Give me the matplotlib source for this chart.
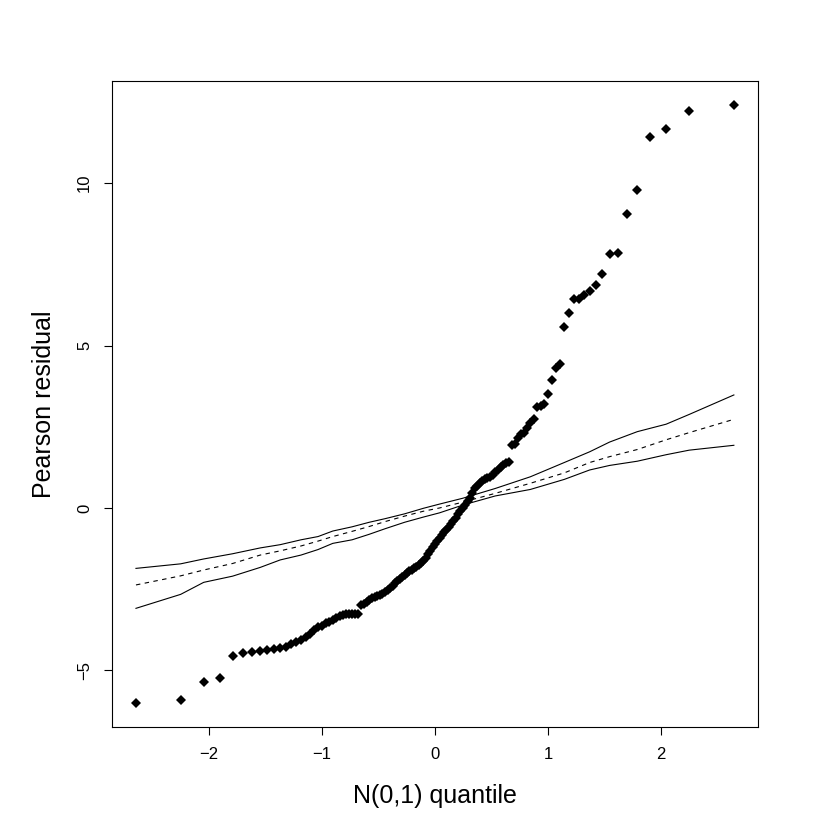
import matplotlib
matplotlib.use("Agg")
import matplotlib.pyplot as plt
import numpy as np
from statistics import NormalDist

plt.rcParams["font.family"] = ["Liberation Sans", "DejaVu Sans"]

# sorted Pearson residuals
resid = np.array([
    -6.01, -5.92, -5.37, -5.25, -4.57, -4.47, -4.42, -4.40, -4.37, -4.33,
    -4.30, -4.27, -4.20, -4.14, -4.08, -3.97, -3.88, -3.75, -3.68, -3.62,
    -3.55, -3.51, -3.46, -3.40, -3.34, -3.28, -3.25, -3.25, -3.25, -3.26,
    -3.26, -3.00, -2.95, -2.90, -2.84, -2.78, -2.73, -2.70, -2.67, -2.64,
    -2.60, -2.53, -2.47, -2.40, -2.32, -2.25, -2.19, -2.13, -2.07, -2.00,
    -1.94, -1.90, -1.86, -1.81, -1.76, -1.70, -1.64, -1.53, -1.41, -1.31,
    -1.21, -1.12, -1.02, -0.93, -0.84, -0.75, -0.67, -0.58, -0.48, -0.40,
    -0.32, -0.20, -0.09, 0.00, 0.09, 0.20, 0.30, 0.45, 0.61, 0.68,
    0.76, 0.83, 0.88, 0.92, 0.96, 1.02, 1.10, 1.18, 1.26, 1.32,
    1.38, 1.42, 1.95, 1.98, 2.15, 2.28, 2.32, 2.45, 2.61, 2.73,
    3.10, 3.15, 3.20, 3.50, 3.94, 4.30, 4.43, 5.56, 5.99, 6.43,
    6.43, 6.55, 6.69, 6.87, 7.20, 7.82, 7.84, 9.05, 9.79, 11.42,
    11.67, 12.22, 12.40,
])

# simulated envelope, read at a subset of ranks
env_rank = [1, 2, 3, 5, 8, 11, 15, 19, 23, 29, 35, 41, 49, 57, 64, 74,
            87, 99, 108, 113, 116, 119, 121, 122, 123]
env_upper = [-1.86, -1.72, -1.57, -1.41, -1.23, -1.13, -0.98, -0.88, -0.71,
             -0.58, -0.44, -0.33, -0.18, -0.01, 0.12, 0.30, 0.60, 0.96,
             1.40, 1.73, 2.03, 2.35, 2.58, 2.88, 3.48]
env_mid = [-2.37, -2.09, -1.91, -1.71, -1.45, -1.32, -1.17, -1.02, -0.88,
           -0.72, -0.57, -0.42, -0.25, -0.10, 0.00, 0.18, 0.45, 0.76,
           1.08, 1.40, 1.58, 1.80, 2.10, 2.32, 2.73]
env_lower = [-3.09, -2.66, -2.29, -2.10, -1.83, -1.60, -1.45, -1.28, -1.09,
             -0.98, -0.81, -0.64, -0.44, -0.28, -0.15, 0.09, 0.37, 0.57,
             0.88, 1.17, 1.31, 1.44, 1.64, 1.78, 1.93]

n = len(resid)
nd = NormalDist()
q = np.array([nd.inv_cdf((i - 0.5) / n) for i in range(1, n + 1)])
env_q = q[np.array(env_rank) - 1]

fig = plt.figure(figsize=(8.3, 8.3), dpi=100)
ax = fig.add_axes([0.135, 0.124, 0.778, 0.778])

ax.plot(env_q, env_upper, color="black", lw=0.8)
ax.plot(env_q, env_lower, color="black", lw=0.8)
ax.plot(env_q, env_mid, color="black", lw=0.8, dashes=(4, 4))
ax.plot(q, resid, "D", color="black", markersize=5, markeredgewidth=0)

xr = q.max() - q.min()
yr = resid.max() - resid.min()
ax.set_xlim(q.min() - 0.04 * xr, q.max() + 0.04 * xr)
ax.set_ylim(resid.min() - 0.04 * yr, resid.max() + 0.04 * yr)

ax.set_xticks([-2, -1, 0, 1, 2])
ax.set_xticklabels(["\u22122", "\u22121", "0", "1", "2"])
ax.set_yticks([-5, 0, 5, 10])
ax.set_yticklabels(["\u22125", "0", "5", "10"], rotation=90, va="center")
ax.tick_params(direction="out", length=5.5, width=0.8, labelsize=12, pad=9)
for s in ax.spines.values():
    s.set_linewidth(0.8)

ax.set_xlabel("N(0,1) quantile", fontsize=18, labelpad=16)
ax.set_ylabel("Pearson residual", fontsize=18, labelpad=15)

fig.savefig("out.png", dpi=100)
